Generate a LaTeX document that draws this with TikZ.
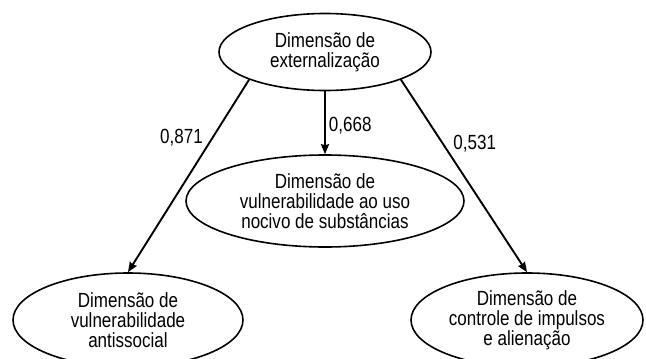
\documentclass[tikz,border=0pt]{standalone}
\usepackage{fontspec}
\setmainfont{Liberation Sans}[FakeStretch=0.83]
\usetikzlibrary{shapes.geometric}
\usetikzlibrary{arrows.meta}

\begin{document}
\begin{tikzpicture}[x=1pt, y=-1pt,
    dimshape/.style={ellipse, draw, line width=1.6pt, inner sep=0pt, align=center,
                     font=\fontsize{20.5}{20}\selectfont},
    loading/.style={-{Stealth[length=10pt, width=8pt, inset=1pt]}, line width=1.9pt},
    weight/.style={font=\fontsize{20.5}{20}\selectfont, inner sep=2pt}]
              \clip (0, 0) rectangle (646, 359);
              \newcommand{\dimbox}[5]
              {%
                \node[dimshape, minimum width=#3, minimum height=#4] (#1) at #2 {#5};%
              }%
              \dimbox{ext}{(325, 52)}{212pt}{77pt}{Dimensão de\\externalização}
              \dimbox{sub}{(325, 201)}{278pt}{92pt}{Dimensão de\\vulnerabilidade ao uso\\nocivo de substâncias}
              \dimbox{anti}{(128, 320)}{230pt}{94pt}{Dimensão de\\vulnerabilidade\\antissocial}
              \dimbox{imp}{(527, 320)}{232pt}{94pt}{Dimensão de\\controle de impulsos\\e alienação}
              \draw[loading] (ext.200) -- node[weight, pos=0.3, left=7pt]{0,871}  (anti.north);
              \draw[loading] (ext.south) -- node[weight, pos=0.55, right=1pt]{0,668} (sub.north);
              \draw[loading] (ext.340) -- node[weight, pos=0.33, right=8pt]{0,531} (imp.north);
            \end{tikzpicture}
\end{document}
